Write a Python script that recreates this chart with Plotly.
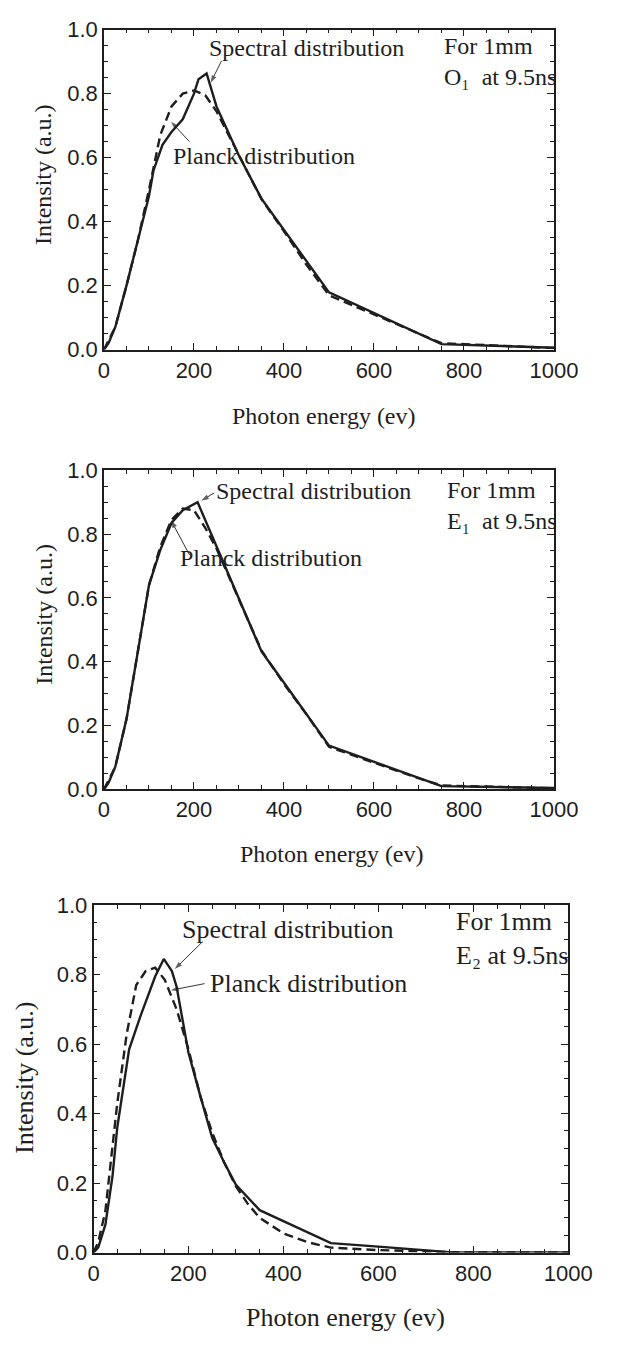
import plotly.graph_objects as go

# ---------------- data ----------------
spec1_x = [0, 10, 25, 50, 75, 100, 110, 130, 150, 175, 200, 210, 228, 250, 300, 350, 400, 450, 500, 750, 1000]
spec1_y = [0, 0.02, 0.07, 0.2, 0.34, 0.48, 0.56, 0.64, 0.68, 0.72, 0.8, 0.845, 0.863, 0.76, 0.606, 0.472, 0.374, 0.275, 0.179, 0.017, 0.006]
planck1_x = [0, 25, 50, 75, 100, 125, 150, 175, 200, 225, 250, 300, 350, 400, 450, 500, 550, 600, 650, 700, 750, 1000]
planck1_y = [0, 0.07, 0.2, 0.34, 0.5, 0.67, 0.76, 0.8, 0.81, 0.795, 0.745, 0.61, 0.47, 0.37, 0.265, 0.17, 0.14, 0.11, 0.08, 0.05, 0.02, 0.005]

spec2_x = [0, 10, 25, 50, 75, 100, 125, 150, 175, 208, 250, 300, 350, 400, 450, 500, 750, 1000]
spec2_y = [0, 0.02, 0.07, 0.22, 0.43, 0.64, 0.75, 0.835, 0.875, 0.90, 0.762, 0.594, 0.432, 0.334, 0.235, 0.137, 0.01, 0.004]
planck2_x = [0, 25, 50, 75, 100, 125, 150, 175, 200, 225, 250, 300, 350, 400, 450, 500, 550, 600, 650, 700, 750, 1000]
planck2_y = [0, 0.07, 0.22, 0.43, 0.64, 0.76, 0.845, 0.88, 0.875, 0.82, 0.755, 0.595, 0.435, 0.33, 0.235, 0.133, 0.108, 0.083, 0.058, 0.034, 0.012, 0.003]

spec3_x = [0, 10, 25, 40, 50, 75, 100, 130, 148, 165, 175, 200, 225, 250, 275, 300, 350, 400, 450, 500, 600, 750, 1000]
spec3_y = [0, 0.015, 0.08, 0.22, 0.36, 0.585, 0.685, 0.795, 0.845, 0.81, 0.765, 0.575, 0.45, 0.33, 0.26, 0.195, 0.122, 0.09, 0.058, 0.027, 0.017, 0.001, 0.0]
planck3_x = [0, 10, 25, 40, 50, 70, 90, 110, 130, 150, 175, 200, 225, 250, 275, 300, 325, 350, 400, 450, 500, 600, 750, 1000]
planck3_y = [0, 0.03, 0.12, 0.3, 0.43, 0.63, 0.77, 0.81, 0.82, 0.785, 0.7, 0.585, 0.45, 0.345, 0.26, 0.19, 0.14, 0.1, 0.055, 0.03, 0.014, 0.007, 0.001, 0.0]

x_ticks = [0, 200, 400, 600, 800, 1000]
y_ticks = [0.0, 0.2, 0.4, 0.6, 0.8, 1.0]
y_tick_text = ["0.0", "0.2", "0.4", "0.6", "0.8", "1.0"]
x_title = "Photon energy (ev)"
y_title = "Intensity (a.u.)"
label_spec = "Spectral distribution"
label_planck = "Planck distribution"
panel_labels = ["For 1mm<br>O\u2081  at 9.5ns",
                "For 1mm<br>E\u2081  at 9.5ns",
                "For 1mm<br>E\u2082 at 9.5ns"]

# ---------------- style ----------------
W, H = 617, 1346
INK = "#1e1e1e"
SERIF = "Liberation Serif, Times New Roman, serif"
SANS = "Liberation Sans, Arial, sans-serif"

# plot-area boxes in pixels (left, right, top, bottom)
boxes = [(103, 576, 18, 344), (103, 576, 467, 792), (92, 591, 910, 1264)]
text_sizes = [24, 24, 26]
# axis-title centres in pixels
xt_pos = [(334, 412), (343, 858), (357, 1330)]
yt_pos = [(39, 166), (39, 614), (20, 1086)]

# label positions / pointer arrows in data coordinates (ev, intensity)
spec_text = [(228, 0.942), (245, 0.935), (182, 0.929)]
planck_text = [(149, 0.604), (164, 0.724), (242, 0.774)]
spec_arrow = [((261, 0.902), (237, 0.834)), ((245, 0.929), (216, 0.905)), ((230, 0.895), (171, 0.816))]
planck_arrow = [((190, 0.65), (149, 0.712)), ((190, 0.735), (149, 0.843)), ((234, 0.774), (163, 0.755))]
corner_text = [(752, 0.902), (757, 0.890), (759, 0.903)]

fig = go.Figure()

series = [(spec1_x, spec1_y, planck1_x, planck1_y),
          (spec2_x, spec2_y, planck2_x, planck2_y),
          (spec3_x, spec3_y, planck3_x, planck3_y)]

for i, (sx, sy, px_, py_) in enumerate(series):
    xa = "x" if i == 0 else f"x{i+1}"
    ya = "y" if i == 0 else f"y{i+1}"
    fig.add_trace(go.Scatter(x=px_, y=py_, mode="lines", xaxis=xa, yaxis=ya,
                             line=dict(color=INK, width=2.4, dash="9px,5px"),
                             showlegend=False, hoverinfo="skip"))
    fig.add_trace(go.Scatter(x=sx, y=sy, mode="lines", xaxis=xa, yaxis=ya,
                             line=dict(color=INK, width=2.4),
                             showlegend=False, hoverinfo="skip"))
    for (tail, head) in (spec_arrow[i], planck_arrow[i]):
        fig.add_trace(go.Scatter(x=[tail[0], head[0]], y=[tail[1], head[1]],
                                 mode="lines+markers", xaxis=xa, yaxis=ya,
                                 line=dict(color=INK, width=0.9),
                                 marker=dict(symbol="arrow", size=[0, 8], angleref="previous",
                                             color=INK, line=dict(width=0)),
                                 showlegend=False, hoverinfo="skip"))

layout = dict(width=W, height=H, margin=dict(l=0, r=0, t=0, b=0),
              paper_bgcolor="white", plot_bgcolor="white", showlegend=False)

for i, (l, r, t, b) in enumerate(boxes):
    sfx = "" if i == 0 else str(i + 1)
    xdom = [l / W, r / W]
    ydom = [1 - b / H, 1 - t / H]
    common = dict(showline=True, linecolor=INK, linewidth=1.6, mirror="allticks",
                  ticks="inside", ticklen=7, tickwidth=1.4, tickcolor=INK,
                  showgrid=False, zeroline=False,
                  tickfont=dict(family=SANS, size=22, color=INK))
    layout["xaxis" + sfx] = dict(domain=xdom, anchor="y" + sfx, range=[0, 1000],
                                 tickvals=x_ticks,
                                 minor=dict(dtick=50, ticklen=4, ticks="inside",
                                            tickcolor=INK, tickwidth=1.2),
                                 **common)
    layout["yaxis" + sfx] = dict(domain=ydom, anchor="x" + sfx, range=[0, 1.0],
                                 tickvals=y_ticks, ticktext=y_tick_text,
                                 minor=dict(dtick=0.05, ticklen=4, ticks="inside",
                                            tickcolor=INK, tickwidth=1.2),
                                 **common)

fig.update_layout(**layout)

# ---------------- annotations ----------------
ann = []
for i in range(3):
    tf = dict(family=SERIF, size=text_sizes[i], color=INK)
    ann.append(dict(xref="paper", yref="paper", x=xt_pos[i][0] / W, y=1 - xt_pos[i][1] / H,
                    text=x_title, showarrow=False, xanchor="center", yanchor="middle", font=tf))
    ann.append(dict(xref="paper", yref="paper", x=yt_pos[i][0] / W, y=1 - yt_pos[i][1] / H,
                    text=y_title, showarrow=False, textangle=-90, xanchor="center",
                    yanchor="middle", font=tf))

for i in range(3):
    xr = "x" if i == 0 else f"x{i+1}"
    yr = "y" if i == 0 else f"y{i+1}"
    f = dict(family=SERIF, size=text_sizes[i], color=INK)
    ann.append(dict(xref=xr, yref=yr, x=spec_text[i][0], y=spec_text[i][1], text=label_spec,
                    showarrow=False, xanchor="left", yanchor="middle", font=f))
    ann.append(dict(xref=xr, yref=yr, x=planck_text[i][0], y=planck_text[i][1], text=label_planck,
                    showarrow=False, xanchor="left", yanchor="middle", font=f))
    ann.append(dict(xref=xr, yref=yr, x=corner_text[i][0], y=corner_text[i][1], text=panel_labels[i],
                    showarrow=False, xanchor="left", yanchor="middle", align="left", font=f))

fig.update_layout(annotations=ann)
fig.write_html("out.html")
